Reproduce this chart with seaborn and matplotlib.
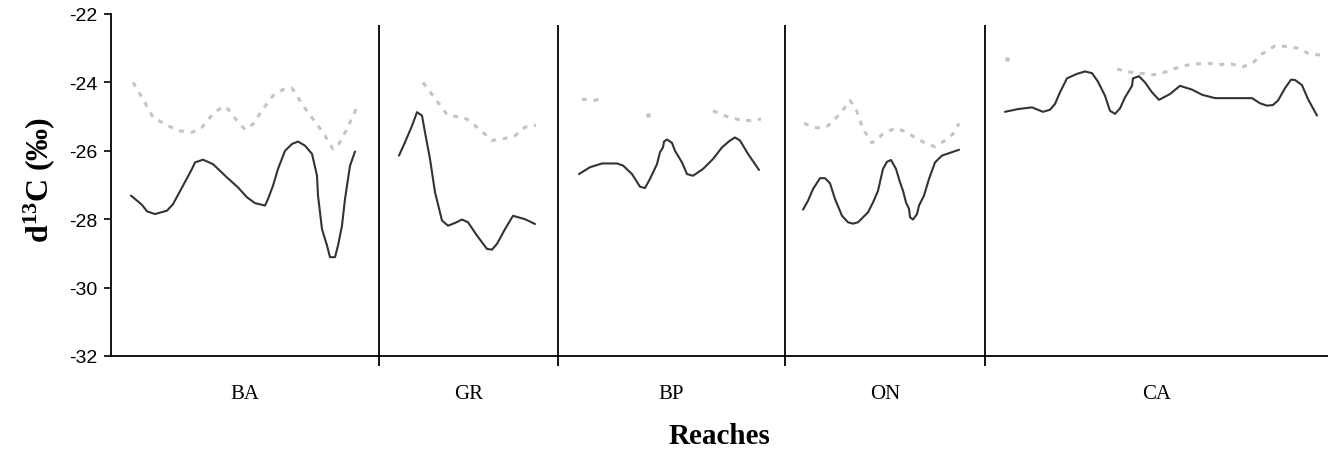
import numpy as np
import pandas as pd
import matplotlib
matplotlib.use("Agg")
import matplotlib.pyplot as plt
import seaborn as sns

# reach names and boundaries along the x (position) axis
reaches = ["BA", "GR", "BP", "ON", "CA"]
bounds = [0, 26.8, 44.7, 67.4, 87.4, 121.7]

# solid series (dark)
solid_x = {
    "BA": [2.0, 3.1, 3.6, 4.4, 5.6, 6.2, 7.2, 8.1, 8.4, 9.2, 10.2, 11.6, 12.7, 13.6, 14.4, 15.4, 15.7, 16.2,
           16.7, 17.4, 18.1, 18.7, 19.4, 20.1, 20.6, 20.7, 21.1, 21.6, 21.9, 22.4, 22.7, 23.1, 23.4, 23.9, 24.4],
    "GR": [28.8, 29.4, 30.1, 30.6, 31.1, 31.4, 31.9, 32.4, 33.1, 33.7, 34.4, 35.1, 35.7, 36.6, 37.6, 38.1,
           38.6, 39.4, 40.2, 41.4, 42.4],
    "BP": [46.8, 47.9, 49.1, 50.6, 51.2, 52.1, 52.9, 53.4, 53.9, 54.6, 54.9, 55.2, 55.3, 55.6, 56.1, 56.4,
           57.1, 57.6, 58.2, 59.2, 60.2, 61.1, 61.9, 62.4, 62.9, 63.7, 64.8],
    "ON": [69.2, 69.7, 70.2, 70.9, 71.4, 71.9, 72.4, 73.1, 73.7, 74.2, 74.7, 75.7, 76.2, 76.7, 77.2, 77.6,
           78.0, 78.5, 78.9, 79.2, 79.5, 79.8, 79.9, 80.2, 80.6, 80.8, 81.3, 81.8, 82.4, 83.1, 83.9, 84.8],
    "CA": [89.4, 90.7, 92.1, 93.2, 93.9, 94.4, 94.9, 95.6, 96.6, 97.4, 98.1, 98.7, 99.4, 99.9, 100.4, 100.9,
           101.4, 102.1, 102.2, 102.8, 103.4, 104.1, 104.8, 105.9, 106.9, 108.1, 109.1, 110.4, 111.9, 114.1,
           114.9, 115.6, 116.2, 116.7, 117.4, 118.0, 118.4, 119.1, 119.7, 120.6],
}
solid_y = {
    "BA": [-27.31, -27.58, -27.77, -27.85, -27.75, -27.56, -27.02, -26.53, -26.34, -26.26, -26.39, -26.78,
           -27.07, -27.36, -27.53, -27.60, -27.41, -27.02, -26.53, -26.00, -25.80, -25.73, -25.85, -26.09,
           -26.73, -27.31, -28.29, -28.77, -29.11, -29.11, -28.77, -28.19, -27.41, -26.44, -26.02],
    "GR": [-26.14, -25.75, -25.27, -24.87, -24.97, -25.46, -26.24, -27.21, -28.04, -28.19, -28.11, -28.01,
           -28.09, -28.48, -28.87, -28.89, -28.72, -28.29, -27.90, -28.00, -28.14],
    "BP": [-26.68, -26.48, -26.37, -26.37, -26.43, -26.68, -27.05, -27.09, -26.82, -26.39, -26.04, -25.90,
           -25.73, -25.67, -25.77, -26.00, -26.34, -26.68, -26.73, -26.53, -26.24, -25.90, -25.70, -25.61,
           -25.70, -26.09, -26.56],
    "ON": [-27.72, -27.46, -27.12, -26.80, -26.80, -26.95, -27.41, -27.90, -28.09, -28.13, -28.09, -27.80,
           -27.51, -27.17, -26.53, -26.32, -26.27, -26.53, -26.92, -27.17, -27.51, -27.70, -27.94, -28.01,
           -27.85, -27.60, -27.31, -26.82, -26.34, -26.14, -26.06, -25.97],
    "CA": [-24.86, -24.78, -24.73, -24.86, -24.80, -24.63, -24.29, -23.88, -23.75, -23.68, -23.73, -23.98,
           -24.39, -24.83, -24.92, -24.76, -24.44, -24.10, -23.88, -23.82, -24.00, -24.29, -24.51, -24.34,
           -24.10, -24.21, -24.36, -24.46, -24.46, -24.46, -24.61, -24.68, -24.66, -24.53, -24.17, -23.92,
           -23.93, -24.08, -24.49, -24.97],
}

# dashed series (light grey), NaN = missing sample
dash_x = {
    "BA": [2.2, 3.2, 4.2, 5.6, 6.7, 8.1, 9.1, 10.2, 11.2, 11.7, 12.6, 13.4, 14.2, 15.2, 16.2, 17.2, 18.1,
           18.6, 19.2, 20.2, 21.2, 22.2, 22.7, 23.6, 24.2, 24.7],
    "GR": [31.2, 33.6, 35.6, 36.6, 38.1, 39.2, 40.4, 41.4, 42.5],
    "BP": [47.1, 48.2, 49.3, 52.0, 53.7, 57.0, 60.2, 61.6, 62.8, 63.9, 65.0],
    "ON": [69.3, 70.6, 71.7, 72.9, 73.9, 74.5, 75.2, 76.1, 77.2, 78.4, 79.4, 80.4, 81.4, 82.4, 83.4, 84.2, 84.8],
    "CA": [89.6, 95.0, 100.6, 101.9, 102.9, 104.2, 105.1, 106.2, 107.3, 108.6, 109.7, 110.7, 112.0, 113.2,
           114.2, 115.1, 116.4, 117.6, 118.7, 119.7, 120.9],
}
dash_y = {
    "BA": [-24.00, -24.49, -25.02, -25.25, -25.41, -25.46, -25.31, -24.92, -24.70, -24.78, -25.12, -25.38,
           -25.22, -24.78, -24.39, -24.21, -24.17, -24.39, -24.68, -25.07, -25.46, -25.95, -25.85, -25.36,
           -24.97, -24.68],
    "GR": [-24.00, -24.94, -25.07, -25.31, -25.70, -25.65, -25.56, -25.31, -25.25],
    "BP": [-24.49, -24.53, -24.47, np.nan, -24.95, np.nan, -24.83, -25.00, -25.09, -25.12, -25.07],
    "ON": [-25.20, -25.33, -25.27, -24.92, -24.53, -24.78, -25.36, -25.77, -25.51, -25.34, -25.43, -25.61,
           -25.77, -25.88, -25.70, -25.51, -25.20],
    "CA": [-23.32, np.nan, -23.61, -23.70, -23.73, -23.78, -23.73, -23.61, -23.51, -23.46, -23.44, -23.48,
           -23.46, -23.54, -23.43, -23.17, -22.93, -22.95, -23.00, -23.15, -23.20],
}

# build long tables
rows = []
for r in reaches:
    for x, y in zip(solid_x[r], solid_y[r]):
        rows.append((r, x, y))
solid_df = pd.DataFrame(rows, columns=["reach", "pos", "d13C"])

rows = []
for r in reaches:
    seg = 0
    for x, y in zip(dash_x[r], dash_y[r]):
        if np.isnan(y):
            seg += 1
            continue
        rows.append((f"{r}_{seg}", x, y))
dash_df = pd.DataFrame(rows, columns=["seg", "pos", "d13C"])
seg_size = dash_df.groupby("seg")["pos"].transform("size")
lone_df = dash_df[seg_size == 1]
dash_df = dash_df[seg_size > 1]

sns.set_style("ticks")
plt.rcParams["font.family"] = ["Liberation Sans", "DejaVu Sans"]
plt.rcParams["text.color"] = "black"
plt.rcParams["axes.labelcolor"] = "black"
plt.rcParams["xtick.color"] = "black"
plt.rcParams["ytick.color"] = "black"
plt.rcParams["mathtext.fontset"] = "custom"
plt.rcParams["mathtext.bf"] = "Liberation Serif:bold"
plt.rcParams["mathtext.rm"] = "Liberation Serif:bold"
plt.rcParams["mathtext.default"] = "bf"

fig = plt.figure(figsize=(13.28, 4.56), dpi=100)
ax = fig.add_axes([111 / 1328, 1 - 357 / 456, 1 - 111 / 1328, (357 - 15) / 456])

grey = "#c4c4c4"
sns.lineplot(data=dash_df, x="pos", y="d13C", units="seg", estimator=None, color=grey,
             linewidth=2.2, linestyle=(0, (1.6, 2.2)), ax=ax, legend=False)
sns.scatterplot(data=lone_df, x="pos", y="d13C", color=grey, s=12, linewidth=0, ax=ax, legend=False)
sns.lineplot(data=solid_df, x="pos", y="d13C", units="reach", estimator=None, color="#333333",
             linewidth=1.5, ax=ax, legend=False)

ax.set_xlim(bounds[0], bounds[-1])
ax.set_ylim(-32, -22)
ax.set_yticks(np.arange(-32, -21, 2))
ax.set_yticklabels([f"{v:d}" for v in range(-32, -21, 2)], fontsize=14)
ax.tick_params(axis="y", direction="out", length=5, width=1.2, pad=5)

centers = [(a + b) / 2 for a, b in zip(bounds[:-1], bounds[1:])]
ax.set_xticks(centers)
ax.set_xticklabels(reaches, fontsize=15, family="Liberation Serif")
ax.tick_params(axis="x", length=0, pad=20)

# reach dividers
ax.vlines(bounds[1:-1], -32.3, -22.32, color="black", linewidth=1.3, clip_on=False)

sns.despine(ax=ax, top=True, right=True)
for s in ["left", "bottom"]:
    ax.spines[s].set_linewidth(1.3)
    ax.spines[s].set_color("black")

ax.set_xlabel("Reaches", fontsize=21, fontweight="bold", family="Liberation Serif")
ax.xaxis.set_label_coords(0.5, -(437 - 357) / 342)
ax.xaxis.label.set_va("center")
ax.set_ylabel(r"d$^{13}$C (‰)", fontsize=23, fontweight="bold", family="Liberation Serif")
ax.yaxis.set_label_coords(-(111 - 39) / 1217, (357 - 180) / 342)
ax.yaxis.label.set_va("center")

fig.savefig("out.png", dpi=100)
